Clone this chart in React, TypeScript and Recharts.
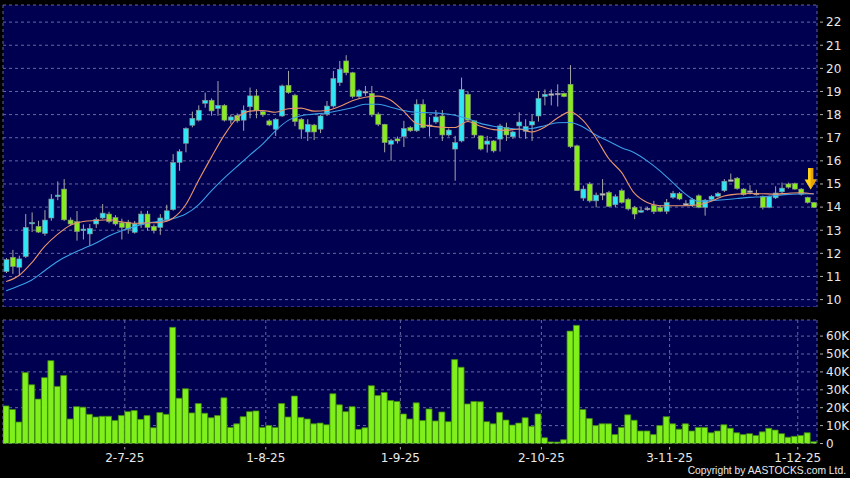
import React from "react";
import { ComposedChart, Bar, Line, XAxis, YAxis, CartesianGrid, ReferenceDot } from "recharts";

// ---- data (index 0 = first session shown) ----
const opens = [
  11.21, 11.83, 11.4, 11.86, 13.3, 13.17, 12.86, 13.53, 14.45, 14.78,
  13.44, 13.37, 12.98, 12.84, 13.27, 13.53, 13.7, 13.55, 13.32, 13.35,
  12.91, 13.24, 13.7, 13.17, 13.12, 13.44, 13.89, 15.93, 16.76, 17.54,
  17.76, 18.49, 18.62, 18.26, 18.4, 17.76, 17.97, 17.76, 18.34, 18.81,
  18.13, 17.73, 17.37, 17.94, 19.27, 18.84, 17.8, 17.25, 17.55, 17.37,
  18.02, 18.37, 19.38, 20.32, 19.81, 18.78, 19.0, 18.92, 18.02, 17.58,
  16.72, 16.95, 17.05, 17.44, 17.3, 18.45, 17.55, 17.68, 17.94, 17.12,
  16.51, 16.86, 18.88, 17.73, 17.08, 16.72, 16.86, 16.94, 17.44, 17.04,
  17.51, 17.28, 17.55, 17.94, 18.78, 18.9, 18.92, 18.92, 19.31, 16.65,
  14.39, 15.0, 14.27, 14.58, 14.63, 14.1, 14.71, 14.34, 13.99, 13.78,
  13.95, 14.08, 13.99, 13.82, 14.42, 14.59, 14.15, 14.09, 14.49, 13.99,
  14.33, 14.47, 14.71, 15.18, 15.25, 14.78, 14.7, 14.6, 14.45, 13.99,
  14.4, 14.66, 15.0, 15.02, 14.78, 14.42, 14.2,
];
const highs = [
  11.8, 12.15, 11.9, 13.7, 13.77, 13.41, 13.87, 14.56, 15.11, 15.21,
  13.55, 13.83, 13.25, 13.27, 13.55, 14.13, 13.8, 13.65, 13.5, 13.45,
  13.4, 13.84, 13.84, 13.25, 13.7, 14.1, 16.29, 16.5, 17.45, 18.13,
  18.4, 18.95, 18.7, 19.45, 18.45, 18.0, 18.05, 18.4, 19.17, 19.1,
  18.2, 17.8, 17.85, 19.3, 19.89, 18.9, 17.85, 17.8, 17.6, 18.0,
  18.59, 19.89, 20.32, 20.57, 19.85, 19.1, 19.24, 19.24, 18.1, 17.6,
  16.95, 17.05, 17.73, 17.5, 18.66, 18.66, 17.9, 18.2, 18.2, 17.4,
  17.08, 19.6, 19.0, 17.75, 17.1, 17.08, 16.9, 17.6, 17.65, 17.3,
  18.1, 17.8, 18.0, 19.02, 19.09, 19.09, 19.31, 18.95, 20.14, 16.7,
  14.93, 15.08, 14.63, 15.21, 14.7, 14.55, 14.8, 14.4, 14.05, 13.99,
  14.0, 14.27, 14.05, 14.35, 14.7, 14.65, 14.3, 14.4, 14.55, 14.35,
  14.52, 14.65, 15.21, 15.45, 15.3, 14.82, 14.95, 14.75, 14.5, 14.5,
  14.9, 15.06, 15.06, 15.06, 14.82, 14.45, 14.22,
];
const lows = [
  11.15, 11.11, 11.07, 11.8, 12.92, 12.88, 12.76, 13.41, 14.3, 13.4,
  13.2, 12.55, 12.6, 12.33, 13.1, 13.48, 13.3, 13.2, 12.6, 12.85,
  12.85, 13.1, 12.98, 12.86, 12.8, 13.4, 13.84, 15.57, 16.37, 17.45,
  17.7, 18.3, 17.95, 17.95, 17.7, 17.6, 17.65, 17.3, 17.84, 17.84,
  17.9, 17.5, 17.08, 17.9, 18.9, 17.5, 16.95, 16.86, 16.9, 17.2,
  17.94, 18.3, 19.24, 19.7, 18.7, 18.7, 18.81, 17.9, 17.5, 16.37,
  16.0, 16.75, 16.6, 17.25, 17.25, 17.4, 17.05, 17.6, 16.86, 17.05,
  15.14, 16.8, 17.7, 17.0, 16.45, 16.36, 16.36, 16.4, 16.86, 16.95,
  17.0, 16.95, 16.86, 17.7, 18.4, 18.4, 18.35, 18.75, 16.55, 14.7,
  14.27, 14.2, 13.99, 14.3, 14.0, 14.0, 14.15, 13.85, 13.48, 13.75,
  13.85, 13.7, 13.78, 13.7, 14.35, 14.3, 14.05, 14.0, 13.95, 13.63,
  14.28, 14.42, 14.65, 15.1, 14.75, 14.5, 14.55, 14.5, 13.9, 13.95,
  14.35, 14.6, 14.8, 14.75, 14.5, 14.15, 13.97,
];
const closes = [
  11.73, 11.43, 11.76, 13.12, 13.34, 12.92, 13.44, 14.35, 14.52, 13.45,
  13.27, 12.94, 13.05, 13.08, 13.47, 13.74, 13.37, 13.27, 13.12, 13.05,
  13.27, 13.7, 13.12, 12.98, 13.53, 13.84, 15.93, 16.4, 17.4, 17.84,
  18.19, 18.62, 18.16, 18.4, 17.76, 17.9, 17.73, 18.19, 18.81, 18.19,
  17.99, 17.55, 17.8, 19.24, 18.95, 17.7, 17.37, 17.58, 17.25, 17.94,
  18.37, 19.56, 19.96, 19.81, 18.78, 19.03, 19.0, 17.99, 17.58, 16.79,
  16.88, 16.86, 17.4, 17.3, 18.45, 17.44, 17.55, 17.9, 17.12, 17.33,
  16.79, 19.09, 17.76, 17.12, 16.51, 16.86, 16.43, 17.51, 17.12, 17.25,
  17.68, 17.48, 17.7, 18.7, 18.88, 18.9, 18.92, 18.78, 16.61, 14.71,
  14.78, 14.27, 14.52, 14.58, 14.03, 14.45, 14.2, 13.92, 13.7, 13.85,
  13.95, 13.8, 13.82, 14.2, 14.6, 14.35, 14.15, 14.32, 13.99, 14.3,
  14.47, 14.59, 15.12, 15.18, 14.8, 14.54, 14.7, 14.6, 13.99, 14.45,
  14.61, 14.82, 14.86, 14.78, 14.56, 14.2, 13.99,
];
// volume in thousands of shares
const volumesK = [
  21, 19, 12, 39.6, 32.8, 24.8, 36.8, 46.3, 31.9, 38,
  13.7, 20.6, 20.3, 16.3, 14.8, 15.2, 15.2, 12.9, 15.6, 17.8,
  18.4, 13.5, 15.6, 8.8, 17.3, 16.3, 64.9, 25.3, 30.6, 17.1,
  22.3, 16.9, 14.4, 15.6, 25.5, 9, 11, 15, 17.8, 18.2,
  9, 10.1, 9, 22.3, 14.8, 26.5, 14.6, 13.7, 11, 11.4,
  10.5, 27.8, 21.6, 17.8, 20.6, 7.9, 8.8, 32.3, 26.8, 28.5,
  24, 23.5, 16.5, 13.7, 22.7, 12.8, 19.3, 12.6, 17.6, 12.2,
  46.9, 42.6, 22.1, 23.5, 23.3, 12.2, 11, 17.4, 13.1, 10.3,
  11.4, 14.4, 9.6, 16.5, 3.2, 0.9, 0.8, 2.1, 62.8, 66,
  19, 14, 10, 11, 11, 5, 9, 16, 13, 7,
  7, 5, 10, 15, 11, 8, 11, 7, 9, 9,
  6, 7, 10.5, 8.5, 6, 5, 5.5, 4.5, 6.5, 8.5,
  7.5, 5.5, 3.5, 4, 4.5, 6, 1,
];
// moving averages at sample sessions
const maIdx = [
  0, 2, 4, 6, 8, 10, 12, 14, 16, 18, 20, 22, 24, 26, 28, 30, 32, 34, 36, 38,
  40, 42, 44, 46, 48, 50, 52, 54, 56, 58, 60, 62, 64, 66, 68, 70, 72, 74, 76, 78,
  80, 82, 84, 86, 88, 90, 92, 94, 96, 98, 100, 102, 104, 106, 108, 110, 112, 114, 116, 118,
  120, 122, 124, 126,
];
const maFast = [
  10.78, 11.04, 11.6, 12.3, 12.82, 13.22, 13.38, 13.42, 13.45, 13.36, 13.3, 13.32, 13.34, 13.52, 14.1, 15.15, 16.15, 17.1, 17.85, 18.15,
  18.18, 18.1, 18.25, 18.28, 18.15, 18.18, 18.35, 18.6, 18.75, 18.8, 18.62, 18.15, 17.62, 17.52, 17.45, 17.44, 17.7, 17.5, 17.35, 17.32,
  17.38, 17.25, 17.45, 17.85, 18.12, 17.75, 17.0, 16.1, 15.5, 14.6, 14.2, 14.06, 14.06, 14.06, 14.1, 14.25, 14.48, 14.56, 14.59, 14.58,
  14.56, 14.6, 14.62, 14.57,
];
const maSlow = [
  10.38, 10.6, 10.85, 11.25, 11.65, 11.95, 12.2, 12.45, 12.75, 12.98, 13.15, 13.3, 13.4, 13.5, 13.7, 14.1, 14.7, 15.25, 15.75, 16.25,
  16.72, 17.3, 17.75, 17.95, 18.02, 18.08, 18.18, 18.3, 18.45, 18.45, 18.32, 18.18, 18.1, 18.08, 18.05, 17.97, 17.82, 17.62, 17.5, 17.42,
  17.37, 17.4, 17.52, 17.65, 17.66, 17.46, 17.12, 16.85, 16.57, 16.35, 16.0, 15.57, 15.06, 14.56, 14.25, 14.28, 14.32, 14.37, 14.42, 14.45,
  14.5, 14.55, 14.57, 14.58,
];
const tickIdx = [18.5, 40.5, 61.5, 83.5, 103.5, 123.5];
const tickLabels = ["2-7-25", "1-8-25", "1-9-25", "2-10-25", "3-11-25", "1-12-25"];
const priceTicks = [10, 11, 12, 13, 14, 15, 16, 17, 18, 19, 20, 21, 22];
const volTicks = [0, 10000, 20000, 30000, 40000, 50000, 60000];
const arrowAt = { i: 125.5, price: 14.76 };
const copyright = "Copyright by AASTOCKS.com Ltd.";

// ---- styling ----
const NAVY = "#000050";
const GRID = "#6767a0";
const CYAN = "#30e6f4";
const GREEN = "#86ec1e";
const GRAY = "#c4c4c4";
const WICK = "#a6a6a6";
const TEXT = "#e8e8e8";
const FONT = "DejaVu Sans";
const N = opens.length;

const rows = opens.map((o, i) => {
  const k = maIdx.indexOf(i);
  return {
    i,
    o,
    h: highs[i],
    l: lows[i],
    c: closes[i],
    range: [lows[i], highs[i]],
    vol: volumesK[i] * 1000,
    maF: k >= 0 ? maFast[k] : null,
    maS: k >= 0 ? maSlow[k] : null,
  };
});

const Candle = (props: any) => {
  const { x, y, width, height, payload } = props;
  if (payload == null || height == null) return null;
  const { o, h, l, c } = payload;
  const cx = x + width / 2;
  const span = h - l || 1;
  const toY = (v: number) => y + ((h - v) / span) * height;
  const top = toY(Math.max(o, c));
  const bot = toY(Math.min(o, c));
  const fill = c > o ? CYAN : c < o ? GREEN : GRAY;
  return (
    <g>
      <line x1={cx} x2={cx} y1={y} y2={y + height} stroke={WICK} strokeWidth={1} />
      <rect x={cx - 2.5} y={top} width={5} height={Math.max(bot - top, 1.5)} fill={fill} stroke="#8a8a8a" strokeWidth={0.6} />
    </g>
  );
};

const Arrow = (props: any) => {
  const { cx, cy } = props;
  if (cx == null || cy == null) return null;
  return (
    <g>
      <rect x={cx - 2.6} y={cy - 21.5} width={5.2} height={12} fill="#ffd21a" />
      <polygon points={`${cx - 6},${cy - 10} ${cx + 6},${cy - 10} ${cx},${cy}`} fill="#ffd21a" />
      <polygon points={`${cx},${cy - 10} ${cx + 6},${cy - 10} ${cx},${cy}`} fill="#e8a400" />
      <rect x={cx} y={cy - 21.5} width={2.6} height={12} fill="#e8a400" />
    </g>
  );
};

const RightTick = (props: any) => {
  const { x, y, payload, fmt } = props;
  return (
    <g>
      <line x1={x + 3} x2={x + 6} y1={y} y2={y} stroke="#b0b0b0" strokeWidth={1} />
      <text x={x + 9} y={y} dy={4.3} fill={TEXT} fontSize={12} fontFamily={FONT} textAnchor="start">
        {fmt(payload.value)}
      </text>
    </g>
  );
};

const BottomTick = (props: any) => {
  const { x, y, payload } = props;
  const k = tickIdx.indexOf(payload.value);
  return (
    <g>
      <line x1={x} x2={x} y1={y + 3.5} y2={y + 6} stroke="#b0b0b0" strokeWidth={1} />
      <text x={x} y={y + 18.5} fill={TEXT} fontSize={12} fontFamily={FONT} textAnchor="middle">
        {k >= 0 ? tickLabels[k] : ""}
      </text>
    </g>
  );
};

const fmtPrice = (v: number) => String(v);
const fmtVol = (v: number) => (v === 0 ? "0" : `${Math.round(v / 1000)}K`);

export default function App() {
  return (
    <div style={{ position: "fixed", left: 0, top: 0, width: 850, height: 478, background: "#000", overflow: "hidden" }}>
      <div style={{ position: "absolute", left: 0, top: 0 }}>
        <ComposedChart width={850} height={307} data={rows} margin={{ top: 5, right: 0, bottom: 0, left: 3 }}>
          <CartesianGrid fill={NAVY} fillOpacity={1} stroke={GRID} strokeDasharray="3 3" />
          <XAxis dataKey="i" type="number" domain={[-0.5, N - 0.5]} ticks={tickIdx} height={0} tick={false} axisLine={false} tickLine={false} allowDataOverflow />
          <YAxis
            orientation="right"
            type="number"
            domain={[9.68, 22.74]}
            ticks={priceTicks}
            interval={0}
            width={33}
            axisLine={false}
            tickLine={false}
            tickSize={0}
            tickMargin={0}
            allowDataOverflow
            tick={<RightTick fmt={fmtPrice} />}
          />
          <Bar dataKey="range" shape={<Candle />} barSize={5} isAnimationActive={false} />
          <Line dataKey="maS" type="monotone" stroke="#3a9fe8" strokeWidth={1.1} dot={false} connectNulls isAnimationActive={false} />
          <Line dataKey="maF" type="monotone" stroke="#e8946c" strokeWidth={1.1} dot={false} connectNulls isAnimationActive={false} />
          <ReferenceDot x={arrowAt.i} y={arrowAt.price} r={0} shape={<Arrow />} ifOverflow="visible" />
        </ComposedChart>
      </div>
      <div style={{ position: "absolute", left: 0, top: 315 }}>
        <ComposedChart width={850} height={163} data={rows} margin={{ top: 5, right: 0, bottom: 0, left: 3 }}>
          <CartesianGrid fill={NAVY} fillOpacity={1} stroke={GRID} strokeDasharray="3 3" />
          <XAxis
            dataKey="i"
            type="number"
            domain={[-0.5, N - 0.5]}
            ticks={tickIdx}
            interval={0}
            height={34.5}
            axisLine={false}
            tickLine={false}
            tickSize={0}
            tickMargin={0}
            allowDataOverflow
            tick={<BottomTick />}
          />
          <YAxis
            orientation="right"
            type="number"
            domain={[0, 69000]}
            ticks={volTicks}
            interval={0}
            width={33}
            axisLine={false}
            tickLine={false}
            tickSize={0}
            tickMargin={0}
            allowDataOverflow
            tick={<RightTick fmt={fmtVol} />}
          />
          <Bar dataKey="vol" fill="#80f01c" stroke="#3f8a0c" strokeWidth={0.8} barSize={6} isAnimationActive={false} />
        </ComposedChart>
      </div>
      <svg width={850} height={478} style={{ position: "absolute", left: 0, top: 0, pointerEvents: "none" }}>
        <text x={846} y={473.5} fill={TEXT} fontSize={10.3} fontFamily="'Liberation Sans', Arial, sans-serif" textAnchor="end">
          {copyright}
        </text>
      </svg>
    </div>
  );
}
